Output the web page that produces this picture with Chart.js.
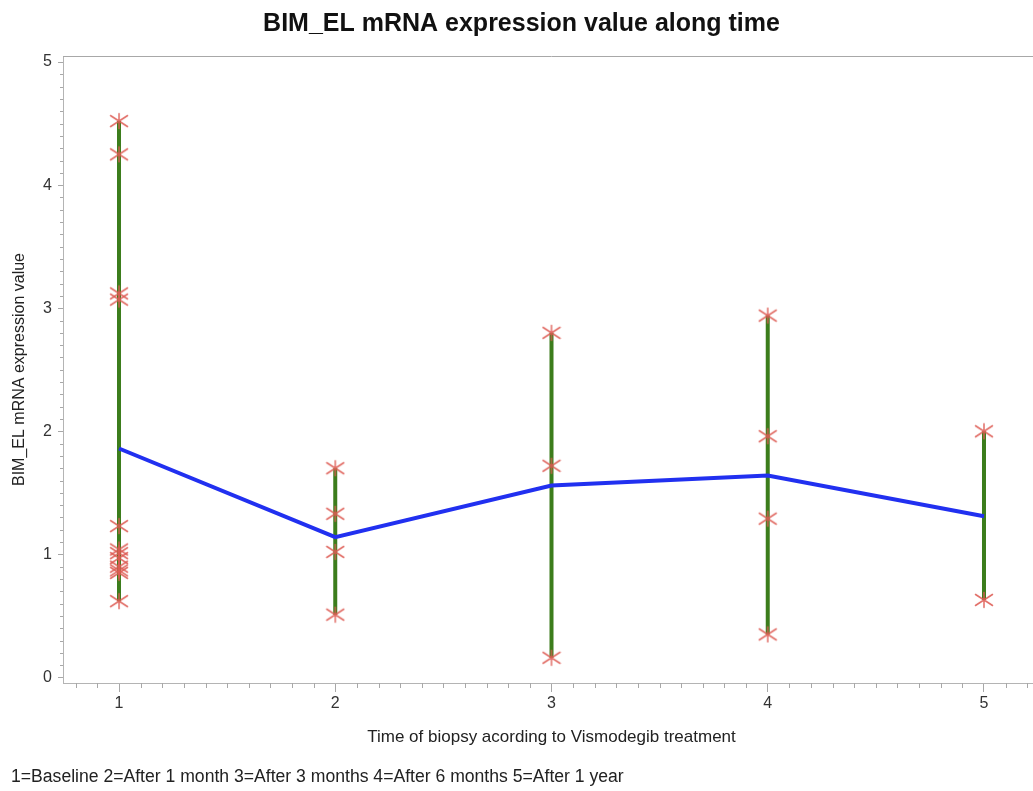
<!DOCTYPE html>
<html>
<head>
<meta charset="utf-8">
<title>BIM_EL mRNA expression value along time</title>
<script src="https://cdn.jsdelivr.net/npm/chart.js@4.4.1/dist/chart.umd.min.js"></script>
<style>
  html, body { margin: 0; padding: 0; background: #fff; overflow: hidden; width: 1033px; height: 791px; }
  #wrap { position: absolute; left: 0; top: 0; width: 1050px; height: 791px; }
</style>
</head>
<body>
<div id="wrap"><canvas id="chart" width="1050" height="791"></canvas></div>
<script>
// Biopsy time points (1=Baseline, 2=1 month, 3=3 months, 4=6 months, 5=1 year)
const timepoints = [1, 2, 3, 4, 5];

// Individual BIM_EL mRNA expression values per time point
const baselineValues = [4.52, 4.25, 3.12, 3.07, 1.23, 1.04, 1.01, 0.97, 0.90, 0.87, 0.85, 0.62];
const month1Values   = [1.70, 1.33, 1.02, 0.51];
const month3Values   = [2.80, 1.72, 0.16];
const month6Values   = [2.94, 1.96, 1.29, 0.35];
const year1Values    = [2.00, 0.63];

// Mean expression at each time point
const meanValues = [1.86, 1.14, 1.56, 1.64, 1.31];

// Axis tick labels
const xTickValues = [1, 2, 3, 4, 5];
const yTickValues = [0, 1, 2, 3, 4, 5];

const FONT = '"Liberation Sans", Arial, Helvetica, sans-serif';
const groups = [baselineValues, month1Values, month3Values, month6Values, year1Values];

// Red asterisk marker
function makeAsterisk() {
  const c = document.createElement('canvas');
  c.width = 20; c.height = 18;
  const g = c.getContext('2d');
  const cx = 10, cy = 9;
  g.strokeStyle = 'rgba(222, 92, 84, 0.9)';
  g.lineWidth = 1.5;
  g.lineCap = 'round';
  g.beginPath();
  g.moveTo(cx - 8.5, cy - 5.5); g.lineTo(cx + 8.5, cy + 5.5);
  g.moveTo(cx - 8.5, cy + 5.5); g.lineTo(cx + 8.5, cy - 5.5);
  g.moveTo(cx, cy - 7.5); g.lineTo(cx, cy + 7.5);
  g.stroke();
  return c;
}
const asterisk = makeAsterisk();

const pointData = [];
groups.forEach((g, i) => g.forEach(v => pointData.push({ x: timepoints[i], y: v })));

const rangeSets = groups.map((g, i) => ({
  type: 'line',
  data: [{ x: timepoints[i], y: Math.min(...g) }, { x: timepoints[i], y: Math.max(...g) }],
  borderColor: '#3c7d1c',
  borderWidth: 4,
  pointRadius: 0,
  order: 3
}));

// Minor tick marks, frame top line, footnote
const decorPlugin = {
  id: 'decor',
  afterDraw(chart) {
    const { ctx, chartArea, scales } = chart;
    ctx.save();
    ctx.strokeStyle = '#a8a8a8';
    ctx.lineWidth = 1;
    // top frame line
    ctx.beginPath();
    ctx.moveTo(chartArea.left, chartArea.top + 0.5);
    ctx.lineTo(chartArea.right, chartArea.top + 0.5);
    ctx.stroke();
    // y minor ticks
    ctx.beginPath();
    for (let k = 1; k <= 50; k++) {
      if (k % 10 === 0) continue;
      const py = Math.round(scales.y.getPixelForValue(k / 10)) + 0.5;
      ctx.moveTo(chartArea.left - 3, py);
      ctx.lineTo(chartArea.left, py);
    }
    // x minor ticks
    for (let k = 8; k <= 52; k++) {
      if (k % 10 === 0) continue;
      const px = Math.round(scales.x.getPixelForValue(k / 10)) + 0.5;
      ctx.moveTo(px, chartArea.bottom);
      ctx.lineTo(px, chartArea.bottom + 5);
    }
    ctx.stroke();
    // footnote
    ctx.fillStyle = '#222';
    ctx.font = '17.6px ' + FONT;
    ctx.textAlign = 'left';
    ctx.textBaseline = 'middle';
    ctx.fillText('1=Baseline 2=After 1 month 3=After 3 months 4=After 6 months 5=After 1 year', 11, 777);
    ctx.restore();
  }
};

new Chart(document.getElementById('chart'), {
  type: 'scatter',
  data: {
    datasets: [
      {
        type: 'scatter',
        data: pointData,
        pointStyle: asterisk,
        pointRadius: 9,
        order: 1
      },
      {
        type: 'line',
        data: timepoints.map((t, i) => ({ x: t, y: meanValues[i] })),
        borderColor: '#2130f0',
        borderWidth: 4,
        pointRadius: 0,
        tension: 0,
        order: 2
      },
      ...rangeSets
    ]
  },
  options: {
    responsive: false,
    animation: false,
    devicePixelRatio: 1,
    layout: { padding: { top: 0, right: 7, bottom: 0, left: 0 } },
    plugins: {
      legend: { display: false },
      tooltip: { enabled: false },
      title: {
        display: true,
        text: 'BIM_EL mRNA expression value along time',
        color: '#111',
        font: { family: FONT, size: 25, weight: 'bold' },
        padding: { top: 9, bottom: 17 }
      }
    },
    scales: {
      x: {
        type: 'linear',
        min: 0.741,
        max: 5.259,
        afterBuildTicks: s => { s.ticks = xTickValues.map(v => ({ value: v })); },
        afterFit: s => { s.height = 108; },
        border: { color: '#b4b4b4', width: 1 },
        grid: { drawOnChartArea: false, tickLength: 9, color: '#a8a8a8' },
        ticks: { padding: 2, color: '#333', font: { family: FONT, size: 16 } },
        title: {
          display: true,
          text: 'Time of biopsy acording to Vismodegib treatment',
          color: '#222',
          font: { family: FONT, size: 17 },
          padding: { top: 0, bottom: 43 }
        }
      },
      y: {
        type: 'linear',
        min: -0.045,
        max: 5.049,
        afterBuildTicks: s => { s.ticks = yTickValues.map(v => ({ value: v })); },
        afterFit: s => { s.width = 63; },
        border: { color: '#b4b4b4', width: 1 },
        grid: { drawOnChartArea: false, tickLength: 5, color: '#a8a8a8' },
        ticks: { padding: 6, color: '#333', font: { family: FONT, size: 16 } },
        title: {
          display: true,
          text: 'BIM_EL mRNA expression value',
          color: '#222',
          font: { family: FONT, size: 16 },
          padding: { top: 10, bottom: 0 }
        }
      }
    }
  },
  plugins: [decorPlugin]
});
</script>
</body>
</html>
